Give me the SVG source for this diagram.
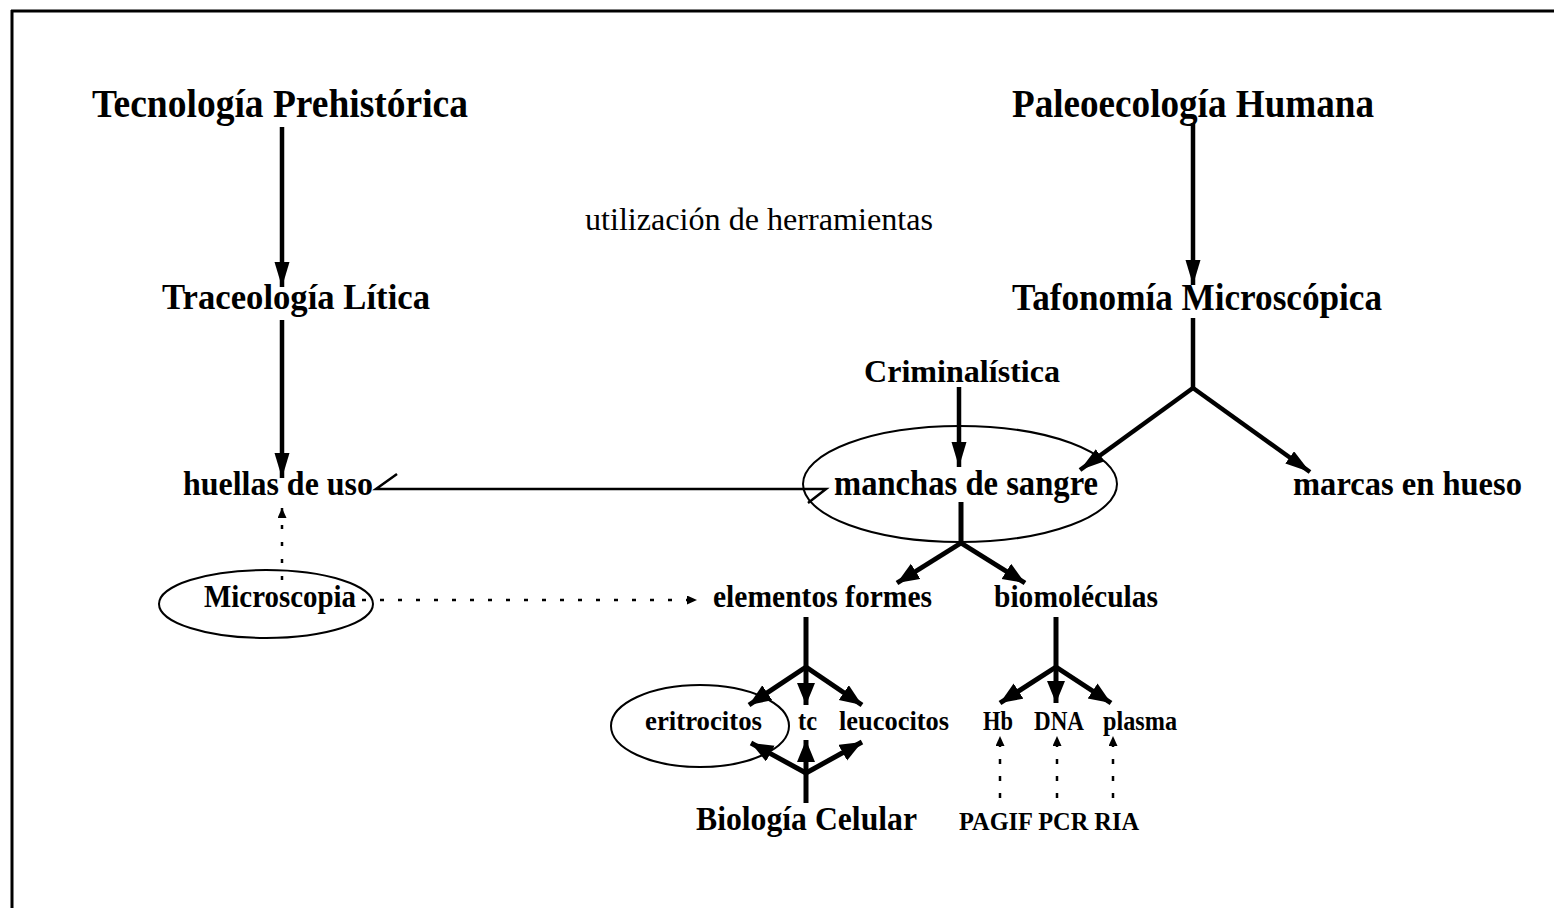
<svg xmlns="http://www.w3.org/2000/svg" width="1554" height="908" viewBox="0 0 1554 908">
<style>
.t{font-family:"Liberation Serif","Times New Roman",serif;font-weight:bold;fill:#000}
.r{font-family:"Liberation Serif","Times New Roman",serif;font-weight:normal;fill:#000}
.s{stroke:#000;fill:none;stroke-width:4.5}
.m{stroke:#000;fill:none;stroke-width:5}
.d{stroke:#000;fill:none;stroke-width:2.5;stroke-dasharray:4 13}
.e{stroke:#000;fill:none;stroke-width:2}
</style>
<defs>
<marker id="big" markerUnits="userSpaceOnUse" markerWidth="26" markerHeight="16" refX="25" refY="7.5" orient="auto"><path d="M0,0 L25,7.5 L0,15 z" fill="#000"/></marker>
<marker id="med" markerUnits="userSpaceOnUse" markerWidth="23" markerHeight="19" refX="22" refY="9" orient="auto"><path d="M0,0 L22,9 L0,18 z" fill="#000"/></marker>
<marker id="sm" markerUnits="userSpaceOnUse" markerWidth="12" markerHeight="10" refX="10" refY="4.5" orient="auto"><path d="M0,0 L10,4.5 L0,9 z" fill="#000"/></marker>
</defs>
<rect width="1554" height="908" fill="#fff"/>
<g id="frame"><path d="M11,11 H1554 M12,10 V908" stroke="#000" stroke-width="3" fill="none"/></g>

<g id="connectors">
<line class="s" x1="282" y1="127" x2="282" y2="287" marker-end="url(#big)"/>
<line class="s" x1="282" y1="320" x2="282" y2="478" marker-end="url(#big)"/>
<line class="s" x1="1193" y1="123" x2="1193" y2="285" marker-end="url(#big)"/>
<polyline class="s" points="1193,318 1193,388"/>
<line class="s" x1="1193" y1="388" x2="1080" y2="470" marker-end="url(#big)"/>
<line class="s" x1="1193" y1="388" x2="1310" y2="472" marker-end="url(#big)"/>
<line class="s" x1="959" y1="387" x2="959" y2="467" marker-end="url(#big)"/>
<polyline class="m" points="961,502 961,543"/>
<line class="m" x1="961" y1="543" x2="897" y2="583" marker-end="url(#med)"/>
<line class="m" x1="961" y1="543" x2="1025" y2="583" marker-end="url(#med)"/>
<path d="M397,474 L376,489 L826,489 L808,503" stroke="#000" stroke-width="2.5" fill="none" stroke-linejoin="miter"/>
<line class="d" x1="282" y1="580" x2="282" y2="508" marker-end="url(#sm)"/>
<line class="d" x1="362" y1="600" x2="697" y2="600" marker-end="url(#sm)" style="stroke-dasharray:4 14"/>
<polyline class="m" points="806,617 806,667"/>
<line class="m" x1="806" y1="667" x2="749" y2="705" marker-end="url(#med)"/>
<line class="m" x1="806" y1="667" x2="806" y2="705" marker-end="url(#med)"/>
<line class="m" x1="806" y1="667" x2="862" y2="705" marker-end="url(#med)"/>
<polyline class="m" points="806,803 806,773"/>
<line class="m" x1="806" y1="773" x2="751" y2="743" marker-end="url(#med)"/>
<line class="m" x1="806" y1="773" x2="806" y2="740" marker-end="url(#med)"/>
<line class="m" x1="806" y1="773" x2="862" y2="742" marker-end="url(#med)"/>
<polyline class="m" points="1056,617 1056,667"/>
<line class="m" x1="1056" y1="667" x2="1000" y2="703" marker-end="url(#med)"/>
<line class="m" x1="1056" y1="667" x2="1056" y2="703" marker-end="url(#med)"/>
<line class="m" x1="1056" y1="667" x2="1111" y2="703" marker-end="url(#med)"/>
<line class="d" x1="1000" y1="798" x2="1000" y2="736" marker-end="url(#sm)" style="stroke-dasharray:5 12"/>
<line class="d" x1="1057" y1="798" x2="1057" y2="736" marker-end="url(#sm)" style="stroke-dasharray:5 12"/>
<line class="d" x1="1113" y1="798" x2="1113" y2="736" marker-end="url(#sm)" style="stroke-dasharray:5 12"/>
</g>

<g id="n-tecnologia"><text class="t" x="92" y="117" font-size="40" textLength="376" lengthAdjust="spacingAndGlyphs">Tecnología Prehistórica</text></g>
<g id="n-paleo"><text class="t" x="1012" y="117" font-size="40" textLength="362" lengthAdjust="spacingAndGlyphs">Paleoecología Humana</text></g>
<g id="n-utilizacion"><text class="r" x="585" y="230" font-size="31" textLength="348" lengthAdjust="spacingAndGlyphs">utilización de herramientas</text></g>
<g id="n-traceologia"><text class="t" x="162" y="309" font-size="36" textLength="268" lengthAdjust="spacingAndGlyphs">Traceología Lítica</text></g>
<g id="n-tafonomia"><text class="t" x="1012" y="310" font-size="37" textLength="370" lengthAdjust="spacingAndGlyphs">Tafonomía Microscópica</text></g>
<g id="n-criminalistica"><text class="t" x="864" y="382" font-size="31" textLength="196" lengthAdjust="spacingAndGlyphs">Criminalística</text></g>
<g id="n-huellas"><text class="t" x="183" y="495" font-size="34" textLength="190" lengthAdjust="spacingAndGlyphs">huellas de uso</text></g>
<g id="n-manchas"><ellipse class="e" cx="960" cy="484" rx="157" ry="58"/><text class="t" x="834" y="495" font-size="35" textLength="264" lengthAdjust="spacingAndGlyphs">manchas de sangre</text></g>
<g id="n-marcas"><text class="t" x="1293" y="495" font-size="34" textLength="229" lengthAdjust="spacingAndGlyphs">marcas en hueso</text></g>
<g id="n-microscopia"><ellipse class="e" cx="266" cy="604" rx="107" ry="34"/><text class="t" x="204" y="607" font-size="32" textLength="152" lengthAdjust="spacingAndGlyphs">Microscopia</text></g>
<g id="n-elementos"><text class="t" x="713" y="607" font-size="31" textLength="219" lengthAdjust="spacingAndGlyphs">elementos formes</text></g>
<g id="n-biomoleculas"><text class="t" x="994" y="607" font-size="31" textLength="164" lengthAdjust="spacingAndGlyphs">biomoléculas</text></g>
<g id="n-eritrocitos"><ellipse class="e" cx="700" cy="726" rx="89" ry="41"/><text class="t" x="645" y="730" font-size="28" textLength="117" lengthAdjust="spacingAndGlyphs">eritrocitos</text></g>
<g id="n-tc"><text class="t" x="798" y="730" font-size="28" textLength="19" lengthAdjust="spacingAndGlyphs">tc</text></g>
<g id="n-leucocitos"><text class="t" x="839" y="730" font-size="28" textLength="110" lengthAdjust="spacingAndGlyphs">leucocitos</text></g>
<g id="n-hb"><text class="t" x="983" y="730" font-size="28" textLength="30" lengthAdjust="spacingAndGlyphs">Hb</text></g>
<g id="n-dna"><text class="t" x="1034" y="730" font-size="28" textLength="50" lengthAdjust="spacingAndGlyphs">DNA</text></g>
<g id="n-plasma"><text class="t" x="1103" y="730" font-size="28" textLength="74" lengthAdjust="spacingAndGlyphs">plasma</text></g>
<g id="n-biologia"><text class="t" x="696" y="830" font-size="34" textLength="221" lengthAdjust="spacingAndGlyphs">Biología Celular</text></g>
<g id="n-tecnicas"><text class="t" x="959" y="830" font-size="25" textLength="180" lengthAdjust="spacingAndGlyphs">PAGIF PCR RIA</text></g>
</svg>
